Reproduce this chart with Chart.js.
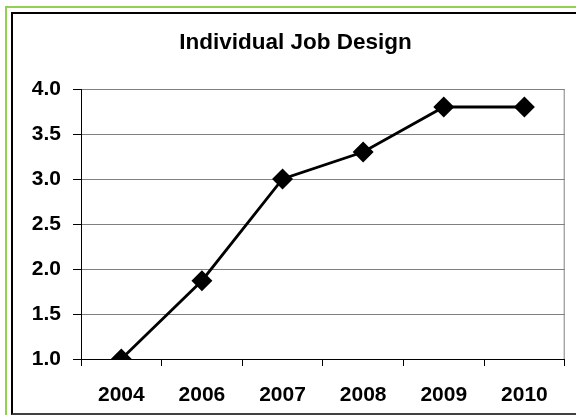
<!DOCTYPE html>
<html lang="en">
<head>
  <meta charset="UTF-8" />
  <title>Individual Job Design</title>
  <script src="https://cdn.jsdelivr.net/npm/chart.js"></script>
  <style>
    body {
      margin: 0;
      background: #ffffff;
      width: 576px;
      height: 415px;
      overflow: hidden;
      position: relative;
      font-family: 'Liberation Sans', Arial, sans-serif;
    }

    .outer {
      position: absolute;
      left: 5px;
      top: 6px;
      width: 620px;
      height: 460px;
      border: 2px solid #92d050;
    }

    .inner {
      position: absolute;
      left: 11px;
      top: 12px;
      width: 620px;
      height: 399px;
      border: 2px solid #000000;
      border-bottom-color: #404040;
      background: #ffffff;
    }

    .chart-title {
      position: absolute;
      left: 0;
      top: 29px;
      width: 591px;
      text-align: center;
      font-size: 22.5px;
      line-height: 26px;
      font-weight: bold;
      color: #000000;
      z-index: 2;
    }

    canvas {
      position: absolute;
      left: 0;
      top: 0;
    }
  </style>
</head>
<body>

  <div class="outer"></div>
  <div class="inner"></div>
  <div class="chart-title">Individual Job Design</div>
  <canvas id="jobChart" width="576" height="415"></canvas>

  <script>
    const years = ['2004', '2006', '2007', '2008', '2009', '2010'];
    const scores = [1.0, 1.87, 3.0, 3.3, 3.8, 3.8];
    const yTicks = [1.0, 1.5, 2.0, 2.5, 3.0, 3.5, 4.0];

    Chart.defaults.font.family = "'Liberation Sans', Arial, sans-serif";
    Chart.defaults.color = '#000000';

    // gray border line on the right side of the plot area
    const plotRightBorder = {
      id: 'plotRightBorder',
      afterDraw(chart) {
        const a = chart.chartArea;
        const ctx = chart.ctx;
        ctx.save();
        ctx.strokeStyle = '#808080';
        ctx.lineWidth = 1;
        ctx.beginPath();
        ctx.moveTo(a.right - 0.5, a.top);
        ctx.lineTo(a.right - 0.5, a.bottom);
        ctx.stroke();
        ctx.restore();
      }
    };

    const ctx = document.getElementById('jobChart').getContext('2d');

    new Chart(ctx, {
      type: 'line',
      data: {
        labels: years,
        datasets: [{
          label: 'Individual Job Design',
          data: scores,
          borderColor: '#000000',
          backgroundColor: '#000000',
          borderWidth: 2.8,
          pointStyle: 'rectRot',
          pointRadius: 8.5,
          pointHoverRadius: 8.5,
          tension: 0,
          fill: false
        }]
      },
      options: {
        responsive: false,
        animation: false,
        devicePixelRatio: 1,
        layout: {
          padding: { left: 0, right: 1, top: 89, bottom: 0 }
        },
        plugins: {
          legend: { display: false },
          tooltip: { enabled: false },
          title: { display: false }
        },
        scales: {
          x: {
            offset: true,
            grid: {
              offset: true,
              drawOnChartArea: false,
              tickLength: 7,
              tickColor: '#000000'
            },
            border: { color: '#000000', width: 1 },
            ticks: {
              padding: 17,
              font: { size: 21, weight: 'bold' },
              color: '#000000'
            },
            afterFit(scale) { scale.height = 56; }
          },
          y: {
            min: 1,
            max: 4,
            afterBuildTicks(scale) {
              scale.ticks = yTicks.map(v => ({ value: v }));
            },
            grid: {
              color: '#808080',
              tickColor: '#000000',
              tickLength: 8
            },
            border: { color: '#000000', width: 1 },
            ticks: {
              padding: 12,
              font: { size: 21, weight: 'bold' },
              color: '#000000',
              callback: v => Number(v).toFixed(1)
            },
            afterFit(scale) { scale.width = 81; }
          }
        }
      },
      plugins: [plotRightBorder]
    });
  </script>

</body>
</html>
